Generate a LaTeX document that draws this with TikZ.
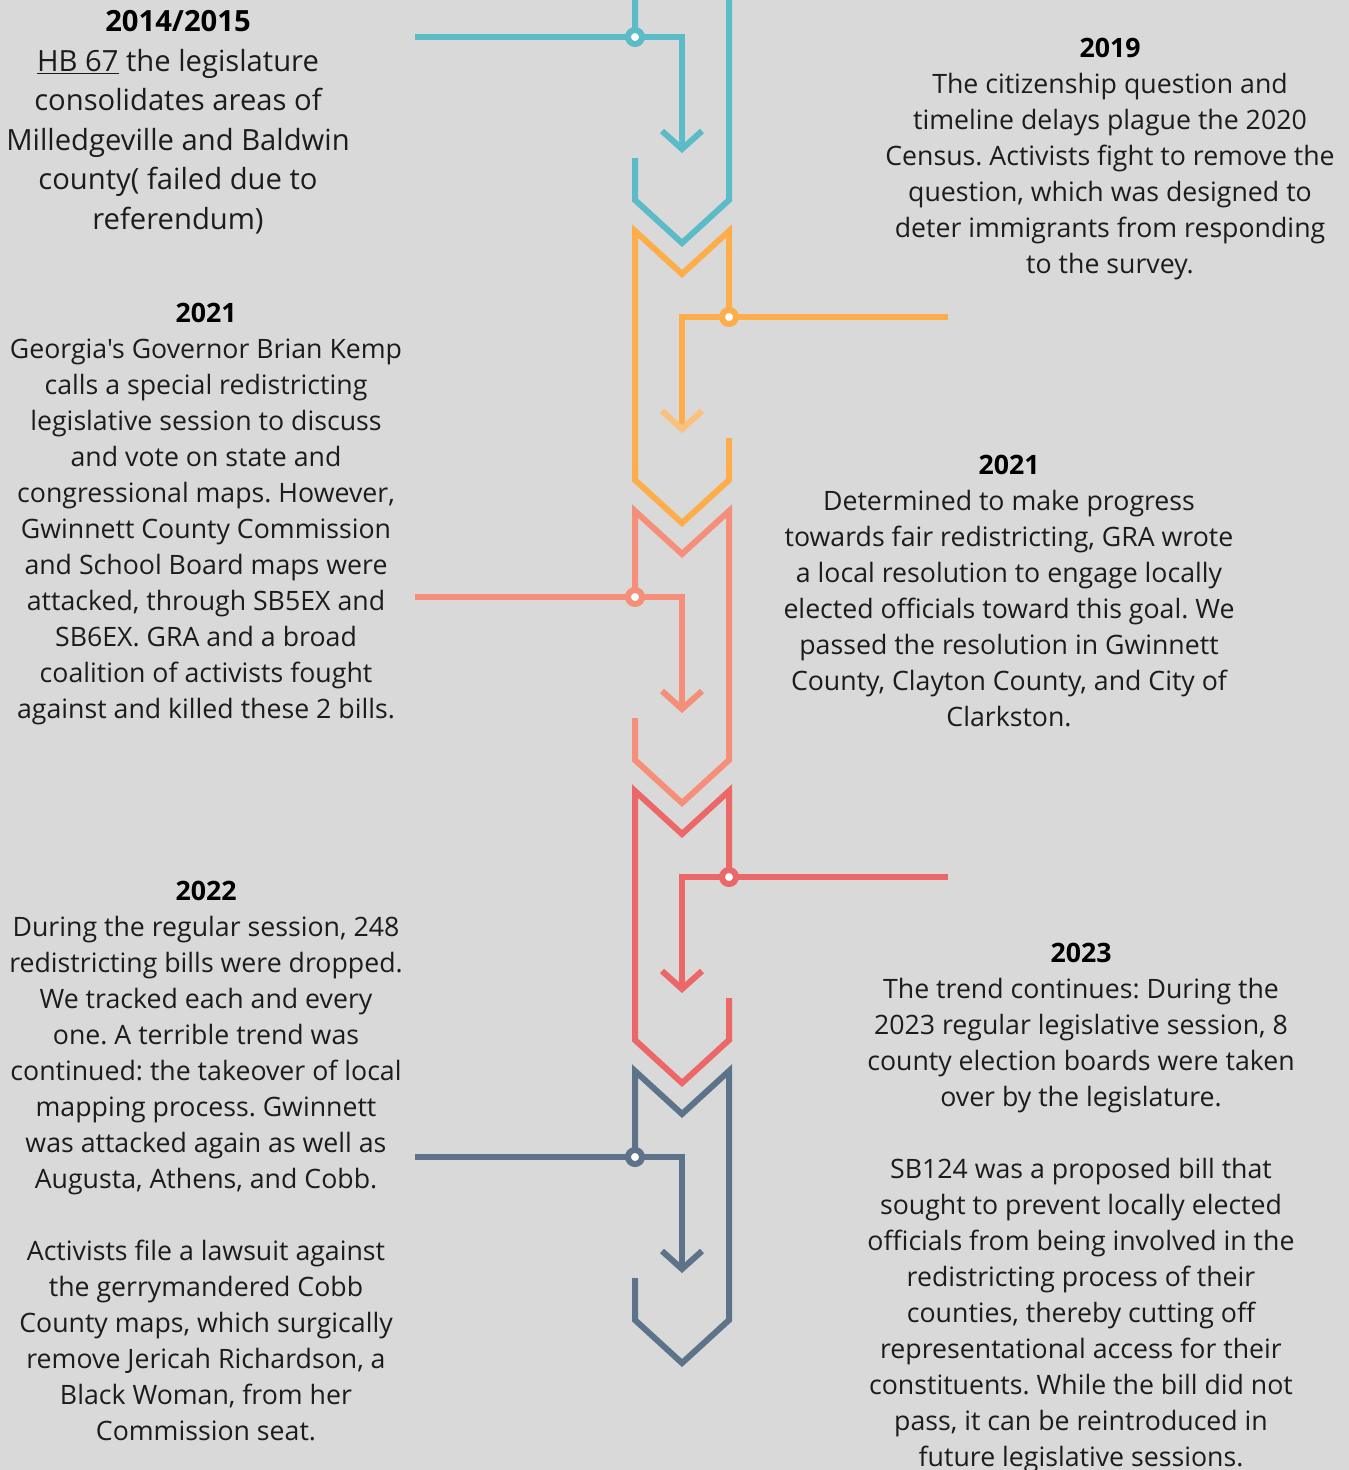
\documentclass[tikz,border=0pt]{standalone}
\usepackage{fontspec}
\setmainfont{Open Sans}[Ligatures=TeXOff]
\frenchspacing
\definecolor{bg}{HTML}{D9D9D9}
\definecolor{teal}{HTML}{5BBCC8}
\definecolor{orng}{HTML}{FDAD4A}
\definecolor{orngl}{HTML}{FCC07D}
\definecolor{salm}{HTML}{F68F7A}
\definecolor{redd}{HTML}{EB6768}
\definecolor{slat}{HTML}{5D7389}
\definecolor{txtc}{HTML}{1C1C1C}
% left-hand segment: #1 = y of dot, #2 = colour, #3 = arrow head colour, #4 = name
\newcommand\segleft[4]{%
  \coordinate (#4dot) at (635,#1);
  \coordinate (#4in) at (415,#1);
  \coordinate (#4turn) at (682,#1);
  \coordinate (#4tip) at (682,{#1+112});
  \draw[seg,#2] (#4dot) -- (635,{#1-86}) -- (682,{#1-43}) -- (729,{#1-86}) -- (729,{#1+163}) -- (682,{#1+206}) -- (635,{#1+163}) -- (635,{#1+121});
  \draw[seg,#2] (#4in) -- (#4turn) -- (#4tip);
  \draw[seg,#3] (662,{#1+94}) -- (#4tip) -- (702,{#1+94});
  \draw[seg,#2,fill=white] (#4dot) circle[radius=7];
}
\newcommand\segright[4]{%
  \coordinate (#4dot) at (729,#1);
  \coordinate (#4in) at (948,#1);
  \coordinate (#4turn) at (682,#1);
  \coordinate (#4tip) at (682,{#1+112});
  \draw[seg,#2] (#4dot) -- (729,{#1-86}) -- (682,{#1-43}) -- (635,{#1-86}) -- (635,{#1+163}) -- (682,{#1+206}) -- (729,{#1+163}) -- (729,{#1+121});
  \draw[seg,#2] (#4in) -- (#4turn) -- (#4tip);
  \draw[seg,#3] (662,{#1+94}) -- (#4tip) -- (702,{#1+94});
  \draw[seg,#2,fill=white] (#4dot) circle[radius=7];
}
\begin{document}
\begin{tikzpicture}[x=1pt,y=-1pt,
  seg/.style={line width=6pt,line join=miter,line cap=butt},
  txt/.style={align=center,inner sep=0pt,anchor=north,text=txtc,font=\fontsize{26.7}{36}\selectfont},
  txtbig/.style={txt,font=\fontsize{29.2}{39.5}\selectfont}]
\fill[bg] (0,0) rectangle (1349,1470);
\useasboundingbox (0,0) rectangle (1349,1470);
\clip (0,0) rectangle (1349,1470);

\segleft{37}{teal}{teal}{a}
\segright{317}{orng}{orngl}{b}
\segleft{597}{salm}{salm}{c}
\segright{877}{redd}{redd}{d}
\segleft{1157}{slat}{slat}{e}

\node[txtbig] (t1) at (178,4) {\strut\textbf{\color{black}2014/2015}\\
\underline{HB 67} the legislature\\ consolidates areas of\\ Milledgeville and Baldwin\\ county( failed due to\\ referendum)};

\node[txt] (t2) at (1110,32) {\strut\textbf{\color{black}2019}\\
The citizenship question and\\ timeline delays plague the 2020\\ Census. Activists fight to remove the\\ question, which was designed to\\ deter immigrants from responding\\ to the survey.};

\node[txt] (t3) at (206,297) {\strut\textbf{\color{black}2021}\\
Georgia's Governor Brian Kemp\\ calls a special redistricting\\ legislative session to discuss\\ and vote on state and\\ congressional maps. However,\\ Gwinnett County Commission\\ and School Board maps were\\ attacked, through SB5EX and\\ SB6EX. GRA and a broad\\ coalition of activists fought\\ against and killed these 2 bills.};

\node[txt] (t4) at (1009,449) {\strut\textbf{\color{black}2021}\\
Determined to make progress\\ towards fair redistricting, GRA wrote\\ a local resolution to engage locally\\ elected officials toward this goal. We\\ passed the resolution in Gwinnett\\ County, Clayton County, and City of\\ Clarkston.};

\node[txt] (t5) at (206,875) {\strut\textbf{\color{black}2022}\\
During the regular session, 248\\ redistricting bills were dropped.\\ We tracked each and every\\ one. A terrible trend was\\ continued: the takeover of local\\ mapping process. Gwinnett\\ was attacked again as well as\\ Augusta, Athens, and Cobb.\\[36pt]
Activists file a lawsuit against\\ the gerrymandered Cobb\\ County maps, which surgically\\ remove Jericah Richardson, a\\ Black Woman, from her\\ Commission seat.};

\node[txt] (t6) at (1081,937) {\strut\textbf{\color{black}2023}\\
The trend continues: During the\\ 2023 regular legislative session, 8\\ county election boards were taken\\ over by the legislature.\\[36pt]
SB124 was a proposed bill that\\ sought to prevent locally elected\\ officials from being involved in the\\ redistricting process of their\\ counties, thereby cutting off\\ representational access for their\\ constituents. While the bill did not\\ pass, it can be reintroduced in\\ future legislative sessions.};
\end{tikzpicture}
\end{document}
